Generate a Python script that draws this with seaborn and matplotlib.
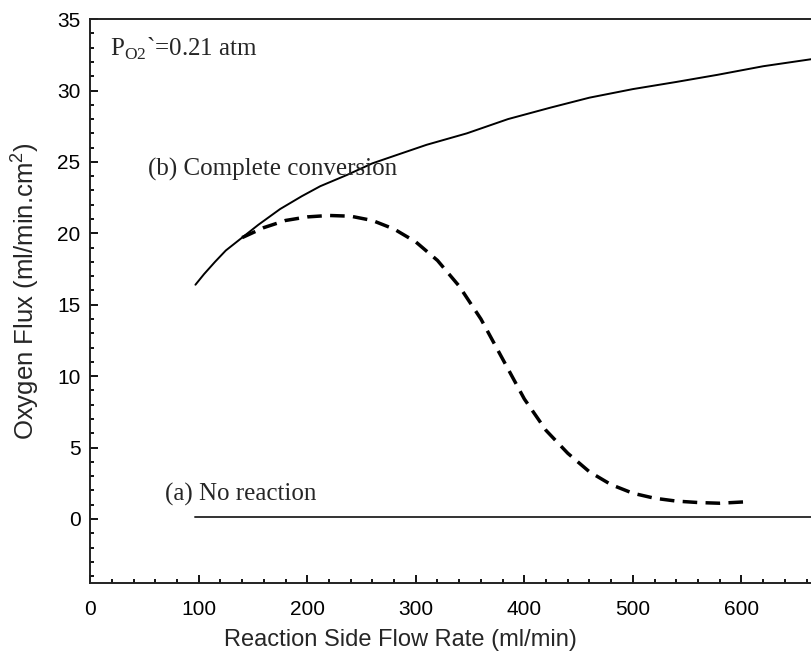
import pandas as pd
import matplotlib
matplotlib.use('Agg')
import matplotlib.pyplot as plt
from matplotlib.ticker import MultipleLocator
import seaborn as sns

sns.set_style('ticks')
plt.rcParams['font.family'] = ['Liberation Sans', 'DejaVu Sans']
plt.rcParams['mathtext.fontset'] = 'custom'
plt.rcParams['mathtext.rm'] = 'Liberation Sans'

# 資料
flow_b = [97, 105, 115, 125, 140, 155, 175, 195, 212, 237, 260, 283, 310, 347,
          385, 424, 460, 500, 540, 578, 620, 665]
flux_b = [16.4, 17.15, 18.0, 18.8, 19.7, 20.6, 21.7, 22.6, 23.3, 24.1, 24.9, 25.5,
          26.2, 27.0, 28.0, 28.8, 29.5, 30.1, 30.6, 31.1, 31.7, 32.2]

flow_dash = [140, 160, 180, 200, 220, 240, 260, 280, 300, 320, 340, 360, 380,
             400, 420, 440, 460, 480, 500, 520, 540, 560, 580, 604]
flux_dash = [19.7, 20.4, 20.9, 21.15, 21.25, 21.2, 20.9, 20.3, 19.4, 18.1, 16.3,
             14.0, 11.2, 8.4, 6.2, 4.6, 3.3, 2.4, 1.8, 1.45, 1.25, 1.15, 1.1, 1.2]

flow_a = [97, 700]
flux_a = [0.12, 0.12]

fig = plt.figure(figsize=(8.12, 6.59), dpi=100)
ax = fig.add_axes([0.111, 0.115, 0.889, 0.856])

sns.lineplot(x=flow_b, y=flux_b, ax=ax, color='black', linewidth=1.4)
sns.lineplot(x=flow_dash, y=flux_dash, ax=ax, color='black', linewidth=2.5,
             linestyle=(0, (4.2, 2.4)))
sns.lineplot(x=flow_a, y=flux_a, ax=ax, color='#333333', linewidth=1.4)

ax.set_xlim(0, 665)
ax.set_ylim(-4.5, 35)
ax.xaxis.set_major_locator(MultipleLocator(100))
ax.xaxis.set_minor_locator(MultipleLocator(20))
ax.yaxis.set_major_locator(MultipleLocator(5))
ax.yaxis.set_minor_locator(MultipleLocator(1))
ax.tick_params(which='both', direction='in', colors='black', labelsize=15, width=1.3)
ax.tick_params(which='major', length=5.5)
ax.tick_params(which='minor', length=3)
ax.tick_params(axis='x', pad=12)
ax.tick_params(axis='y', pad=7)

for s in ['left', 'bottom', 'top']:
    ax.spines[s].set_linewidth(1.4)
    ax.spines[s].set_color('#222222')
ax.spines['right'].set_visible(False)

ax.set_xlabel('Reaction Side Flow Rate (ml/min)', fontsize=17)
ax.set_ylabel('Oxygen Flux (ml/min.cm$^2$)', fontsize=18.5)
ax.xaxis.set_label_coords(0.43, -0.101)
ax.yaxis.set_label_coords(-0.091, 0.518)
ax.xaxis.label.set_va('center')
ax.yaxis.label.set_va('center')

serif = ['Liberation Serif', 'DejaVu Serif']
ax.text(18, 32.9, 'P$_{\\mathregular{O2}}$`=0.21 atm', family=serif, fontsize=18,
        va='center', ha='left')
ax.text(53, 24.5, '(b) Complete conversion', family=serif, fontsize=18,
        va='center', ha='left')
ax.text(69, 1.75, '(a) No reaction', family=serif, fontsize=18,
        va='center', ha='left')

fig.savefig('out.png', dpi=100)
